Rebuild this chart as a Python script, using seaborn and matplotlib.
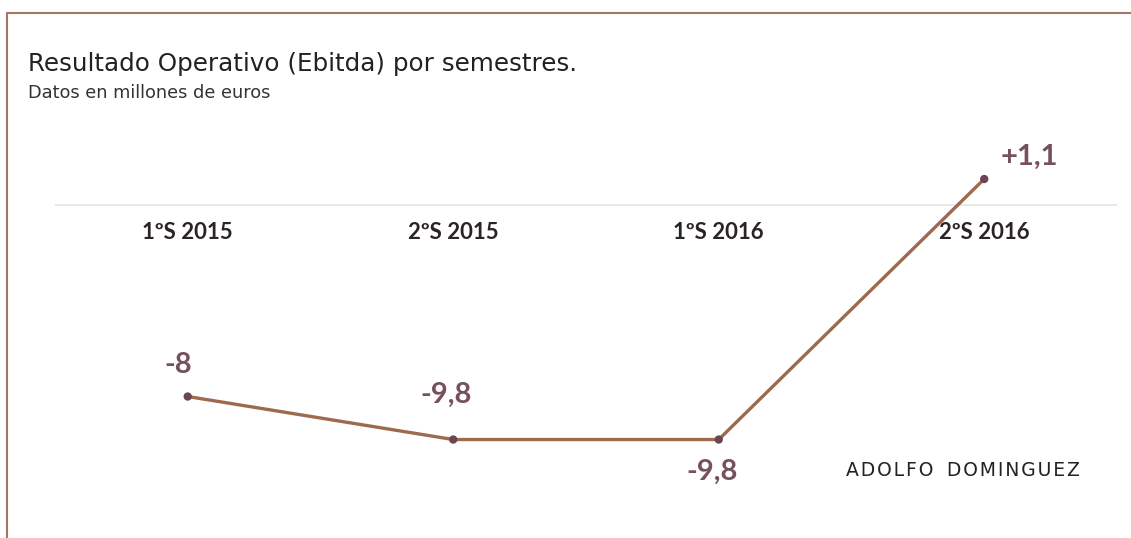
import matplotlib
matplotlib.use("Agg")
import matplotlib.pyplot as plt
from matplotlib.lines import Line2D
import pandas as pd
import seaborn as sns

# data
semestres = ["1ºS 2015", "2ºS 2015", "1ºS 2016", "2ºS 2016"]
ebitda = [-8.0, -9.8, -9.8, 1.1]
etiquetas = ["-8", "-9,8", "-9,8", "+1,1"]

df = pd.DataFrame({"semestre": semestres, "ebitda": ebitda})

sns.set_theme(style="white")
plt.rcParams["font.family"] = ["Lato", "DejaVu Sans"]

fig = plt.figure(figsize=(11.31, 5.38), dpi=100)
ax = fig.add_axes([0.0486, 0.0, 0.939, 1.0])

line_col = "#9d6a4e"
dot_col = "#6b4553"
lab_col = "#76505e"
txt_col = "#2b2424"

ax.axhline(0, color="#e4e4e4", lw=1.2, zorder=0)
sns.lineplot(data=df, x="semestre", y="ebitda", ax=ax, color=line_col,
             lw=2.4, sort=False, zorder=2)
sns.scatterplot(data=df, x="semestre", y="ebitda", ax=ax, color=dot_col,
                s=36, edgecolor="none", zorder=3)

ax.set_xlim(-0.5, 3.5)
ax.set_ylim(-13.92, 8.59)
ax.set_axis_off()

# category labels just under the zero line
for i, s in enumerate(semestres):
    ax.text(i, -1.12, s, ha="center", va="center", fontsize=16,
            fontweight="bold", color=txt_col)

# value labels
offsets = [(-10, 32), (-7, 45), (-7, -32), (45, 22)]
for i, (v, lab) in enumerate(zip(ebitda, etiquetas)):
    dx, dy = offsets[i]
    ax.annotate(lab, (i, v), xytext=(dx * 0.72, dy * 0.72),
                textcoords="offset points", ha="center", va="center",
                fontsize=21, fontweight="bold", color=lab_col)

fig.text(28 / 1131, 1 - 64 / 538, "Resultado Operativo (Ebitda) por semestres.",
         fontsize=17.7, color="#222222", va="center", ha="left",
         family=["DejaVu Sans"])
fig.text(28 / 1131, 1 - 93 / 538, "Datos en millones de euros",
         fontsize=12.8, color="#333333", va="center", ha="left",
         family=["DejaVu Sans"])
marca = "\u200a".join("ADOLFO") + "\u2009 \u2009" + "\u200a".join("DOMINGUEZ")
fig.text(963 / 1131, 1 - 470 / 538, marca, fontsize=13.5,
         color="#222222", va="center", ha="center", family=["DejaVu Sans"])

# frame (top and left border)
fcol = "#a37763"
fig.add_artist(Line2D([7 / 1131, 1], [1 - 13 / 538, 1 - 13 / 538],
                      transform=fig.transFigure, color=fcol, lw=1.5))
fig.add_artist(Line2D([7 / 1131, 7 / 1131], [0, 1 - 13 / 538],
                      transform=fig.transFigure, color=fcol, lw=1.5))

fig.savefig("out.png", dpi=100)
plt.close(fig)
